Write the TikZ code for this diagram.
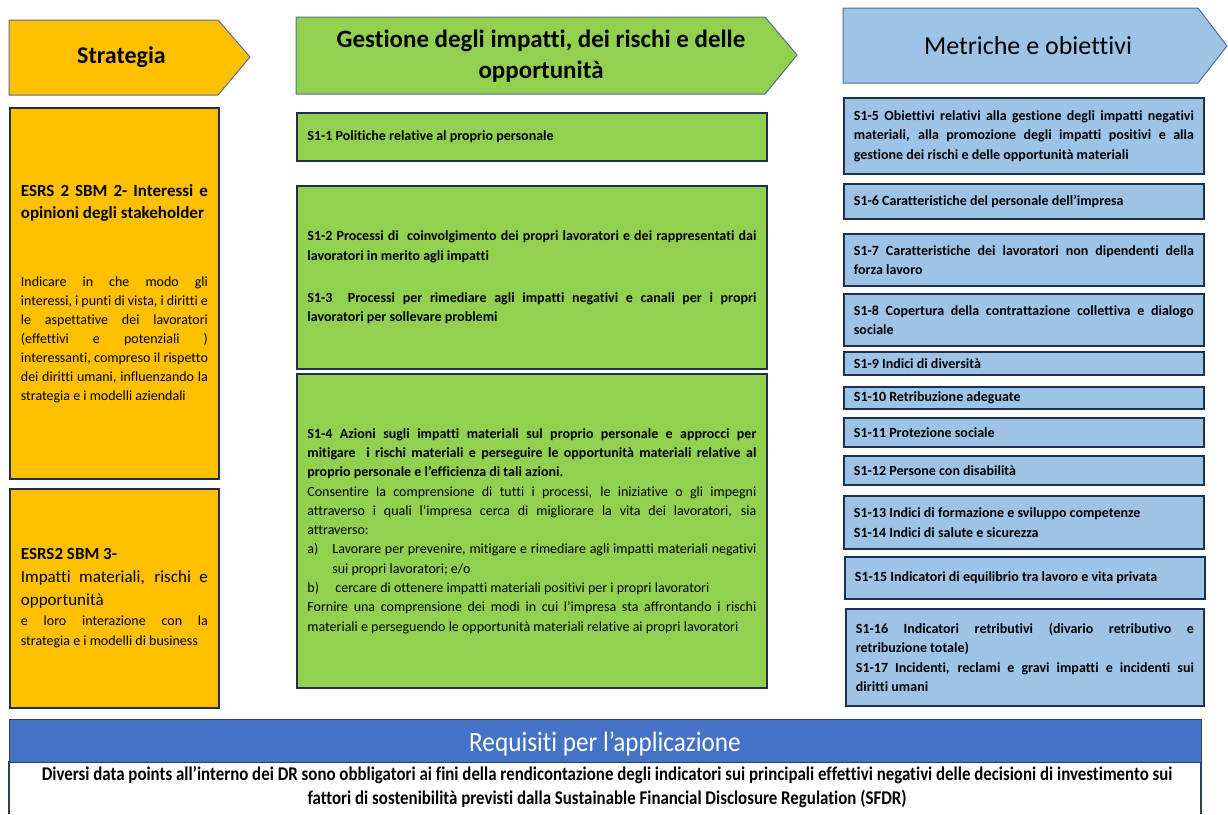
\documentclass[tikz,border=0pt]{standalone}
\usepackage{fontspec}
\setmainfont{Carlito}[Ligatures=NoCommon]
\newfontfamily\condfont{Carlito}[FakeStretch=0.87,Ligatures=NoCommon]
\newfontfamily\reqfont{Carlito}[FakeStretch=0.9,Ligatures=NoCommon]
\definecolor{stratfill}{HTML}{FFC000}
\definecolor{gestfill}{HTML}{92D050}
\definecolor{metrfill}{HTML}{9DC3E6}
\definecolor{reqfill}{HTML}{4472C4}
\definecolor{boxline}{HTML}{1F2F4F}
\definecolor{arrowline}{HTML}{5A6E8C}
\definecolor{reqline}{HTML}{2F3E5C}
\hyphenpenalty=10000
\exhyphenpenalty=10000
\tolerance=10000
\hbadness=10000
\setlength\parindent{0pt}
\tikzset{
  base/.style={draw=boxline, line width=1.8pt, inner ysep=0pt, anchor=north west, align=justify},
  strat/.style={base, fill=stratfill, text width=187pt, inner xsep=11pt, minimum width=209pt},
  gest/.style={base, fill=gestfill, text width=449pt, inner xsep=10.5pt, minimum width=470pt,
    font=\fontsize{14}{19.3}\selectfont\bfseries},
  metr/.style={base, fill=metrfill, text width=340pt, inner xsep=10pt, minimum width=360pt,
    font=\fontsize{14}{19.5}\selectfont\bfseries},
  arrowshape/.style={draw=arrowline, line width=1pt},
  title/.style={inner sep=0pt, align=center},
}
\begin{document}
\begin{tikzpicture}[x=1pt,y=-1pt]
\useasboundingbox (0,0) rectangle (1228,814);

% header arrows
\path[arrowshape, fill=stratfill] (9,20) -- (218,20) -- (250,57) -- (218,95) -- (9,95) -- cycle;
\node[title, font=\fontsize{24}{29}\selectfont\bfseries] (tstrat) at (121.5,57) {Strategia};

\path[arrowshape, fill=gestfill] (296,17) -- (765,17) -- (797,55) -- (765,94) -- (296,94) -- cycle;
\node[title, font=\fontsize{25}{31}\selectfont\bfseries] (tgest) at (541,56)
  {Gestione degli impatti, dei rischi e delle\\opportunità};

\path[arrowshape, fill=metrfill] (843,8) -- (1198,8) -- (1227,46) -- (1198,83) -- (843,83) -- cycle;
\node[title, font=\fontsize{26}{31}\selectfont] (tmetr) at (1028,46) {Metriche e obiettivi};

% Strategia column
\node[strat, minimum height=371pt] (sbm2) at (9,107) {%
  {\fontsize{17}{22}\selectfont\bfseries ESRS 2 SBM 2- Interessi e\linebreak opinioni degli stakeholder\par}
  \vspace{49pt}
  {\fontsize{14}{19}\selectfont Indicare in che modo gli\linebreak
  interessi, i punti di vista, i diritti e\linebreak
  le aspettative dei lavoratori\linebreak
  (effettivi e potenziali )\linebreak
  interessanti, compreso il rispetto\linebreak
  dei diritti umani, influenzando la\linebreak
  strategia e i modelli aziendali\par}};

\node[strat, minimum height=219pt] (sbm3) at (9,488) {%
  {\fontsize{17}{23}\selectfont\bfseries ESRS2 SBM 3-\par}
  {\fontsize{17}{23}\selectfont Impatti materiali, rischi e\linebreak opportunità\par}
  {\fontsize{14}{20}\selectfont e loro interazione con la\linebreak strategia e i modelli di business\par}};

% Gestione column
\node[gest, minimum height=48pt] (s11) at (296,112) {S1-1 Politiche relative al proprio personale};

\node[gest, minimum height=183pt] (s12) at (296,185) {%
  S1-2 Processi di\ \ coinvolgimento dei propri lavoratori e dei rappresentati dai\linebreak
  lavoratori in merito agli impatti\par
  \vspace{22.7pt}
  S1-3\ \ Processi per rimediare agli impatti negativi e canali per i propri\linebreak
  lavoratori per sollevare problemi\par};

\node[gest, minimum height=314pt] (s14) at (296,373) {%
  S1-4 Azioni sugli impatti materiali sul proprio personale e approcci per\linebreak
  mitigare\ \ i rischi materiali e perseguire le opportunità materiali relative al\linebreak
  proprio personale e l’efficienza di tali azioni.\par
  \mdseries
  Consentire la comprensione di tutti i processi, le iniziative o gli impegni\linebreak
  attraverso i quali l’impresa cerca di migliorare la vita dei lavoratori, sia\linebreak
  attraverso:\par
  {\hangindent=25pt\hangafter=1\makebox[25pt][l]{a)}Lavorare per prevenire, mitigare e rimediare agli impatti materiali negativi\linebreak
  sui propri lavoratori; e/o\par}
  \makebox[28pt][l]{b)}cercare di ottenere impatti materiali positivi per i propri lavoratori\par
  Fornire una comprensione dei modi in cui l’impresa sta affrontando i rischi\linebreak
  materiali e perseguendo le opportunità materiali relative ai propri lavoratori\par};

% Metriche column
\node[metr, minimum height=76pt] (s15) at (843,97) {%
  S1-5 Obiettivi relativi alla gestione degli impatti negativi\linebreak
  materiali, alla promozione degli impatti positivi e alla\linebreak
  gestione dei rischi e delle opportunità materiali};
\node[metr, minimum height=35pt] (s16) at (843,183) {S1-6 Caratteristiche del personale dell’impresa};
\node[metr, minimum height=52pt] (s17) at (843,233) {%
  S1-7 Caratteristiche dei lavoratori non dipendenti della\linebreak forza lavoro};
\node[metr, minimum height=52pt] (s18) at (843,293) {%
  S1-8 Copertura della contrattazione collettiva e dialogo\linebreak sociale};
\node[metr, minimum height=23pt] (s19) at (843,351) {S1-9 Indici di diversità};
\node[metr, minimum height=22pt] (s110) at (843,386) {S1-10 Retribuzione adeguate};
\node[metr, minimum height=29pt] (s111) at (843,417) {S1-11 Protezione sociale};
\node[metr, minimum height=29pt] (s112) at (843,455) {S1-12 Persone con disabilità};
\node[metr, minimum height=53pt] (s113) at (843,495) {%
  S1-13 Indici di formazione e sviluppo competenze\par
  S1-14 Indici di salute e sicurezza};
\node[metr, minimum height=42pt] (s115) at (844,556) {S1-15 Indicatori di equilibrio tra lavoro e vita privata};
\node[metr, minimum height=97pt, minimum width=358pt, text width=338pt] (s116) at (845,608) {%
  S1-16 Indicatori retributivi (divario retributivo e\linebreak retribuzione totale)\par
  S1-17 Incidenti, reclami e gravi impatti e incidenti sui\linebreak diritti umani};

% Requisiti
\draw[draw=reqline, line width=1.2pt] (9,814) -- (9,762) -- (1201,762) -- (1201,814);
\node[draw=reqline, line width=1.2pt, fill=reqfill, anchor=north west, minimum width=1192pt,
  minimum height=43pt, inner sep=0pt] (req) at (9,719) {};
\node[title, text=white, font=\reqfont\fontsize{28}{30}\selectfont] (reqt) at (605,744) {Requisiti per l’applicazione};
\node[title, font=\condfont\bfseries\fontsize{19.4}{24}\selectfont] (reqbody) at (607,787)
  {Diversi data points all’interno dei DR sono obbligatori ai fini della rendicontazione degli indicatori sui principali effettivi negativi delle decisioni di investimento sui\\
   fattori di sostenibilità previsti dalla Sustainable Financial Disclosure Regulation (SFDR)};
\end{tikzpicture}
\end{document}
